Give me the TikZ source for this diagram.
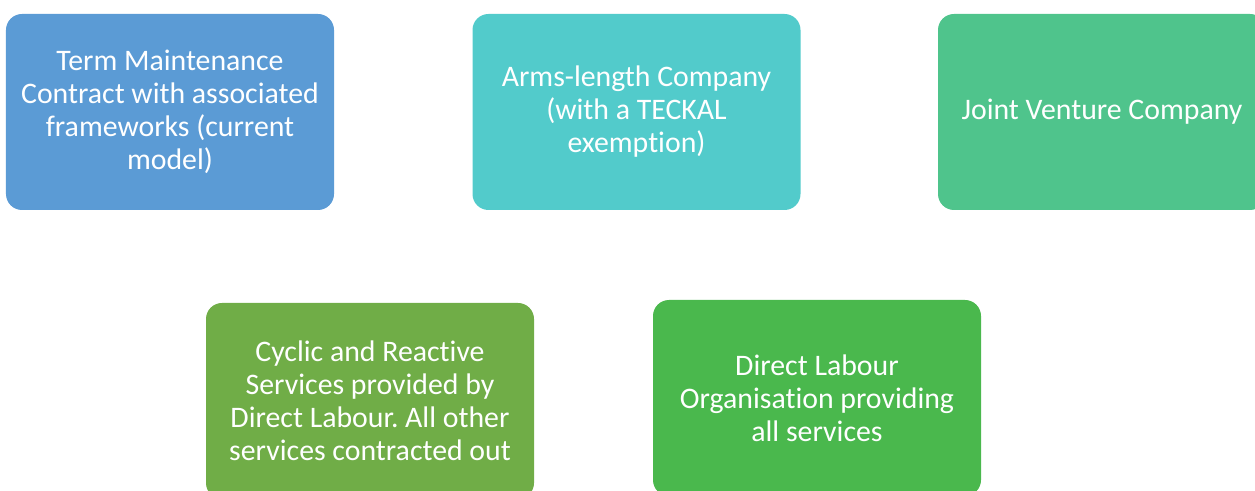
\documentclass[tikz,border=0pt]{standalone}
\usepackage{fontspec}
\setmainfont[Ligatures=NoCommon]{Carlito}
\frenchspacing
\definecolor{boxblue}{HTML}{5B9BD5}
\definecolor{boxteal}{HTML}{52CBCB}
\definecolor{boxjade}{HTML}{4FC48C}
\definecolor{boxolive}{HTML}{70AD47}
\definecolor{boxgreen}{HTML}{4AB84D}
\begin{document}
\begin{tikzpicture}[x=1bp,y=-1bp,
  option/.style={rounded corners=16bp, minimum width=328bp, minimum height=196bp,
    inner sep=0pt, align=center, text=white,
    font=\fontsize{29.8bp}{33bp}\selectfont}]
\useasboundingbox (0,0) rectangle (1255,491);
\clip (0,0) rectangle (1255,491);
\node[option, fill=boxblue]  (tmc) at (170,112)   {Term Maintenance\\Contract with associated\\frameworks (current\\model)};
\node[option, fill=boxteal]  (alc) at (636.5,112) {Arms-length Company\\(with a TECKAL\\exemption)};
\node[option, fill=boxjade]  (jvc) at (1102,112)  {Joint Venture Company};
\node[option, fill=boxolive] (cyc) at (370,401)   {Cyclic and Reactive\\Services provided by\\Direct Labour. All other\\services contracted out};
\node[option, fill=boxgreen] (dlo) at (817,398)   {Direct Labour\\Organisation providing\\all services};
\end{tikzpicture}
\end{document}
